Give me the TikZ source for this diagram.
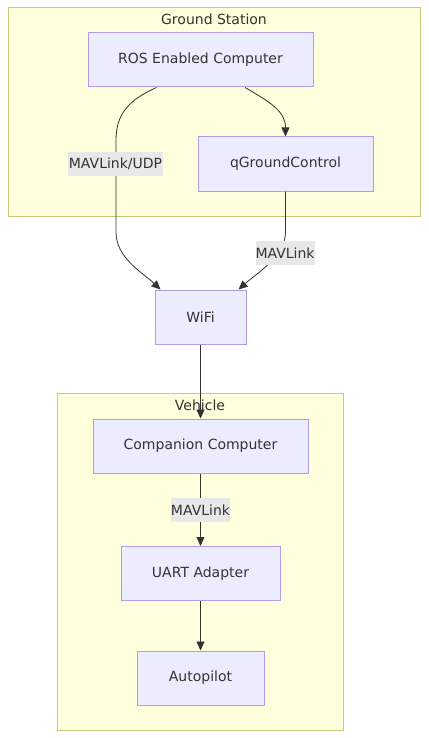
\documentclass[tikz,border=0pt]{standalone}
\usepackage{fontspec}
\setmainfont{DejaVu Sans}
\usetikzlibrary{arrows.meta}
\definecolor{clfill}{HTML}{FFFFDE}
\definecolor{cldraw}{HTML}{C8C87A}
\definecolor{ndfill}{HTML}{ECECFF}
\definecolor{nddraw}{HTML}{B49CE4}
\definecolor{txt}{HTML}{333333}
\definecolor{lblbg}{HTML}{E8E8E8}
\tikzset{
  cluster/.style={draw=cldraw, fill=clfill, line width=1pt},
  box/.style={draw=nddraw, fill=ndfill, line width=1pt, text=txt, minimum height=54pt, inner sep=0pt, font=\fontsize{14}{16}\selectfont},
  ttl/.style={text=txt, font=\fontsize{14}{16}\selectfont, inner sep=0pt},
  lbl/.style={fill=lblbg, text=txt, font=\fontsize{14}{16}\selectfont, inner sep=0pt, minimum height=24pt},
  edge/.style={draw=txt, line width=0.8pt, -{Triangle[length=9pt,width=8pt]}},
}
\begin{document}
\begin{tikzpicture}[x=1pt,y=-1pt]
\useasboundingbox (0,0) rectangle (428,738);
\fill[white] (0,0) rectangle (428,738);
% clusters
\draw[cluster] (8,8) rectangle (420,216);
\node[ttl] (gstitle) at (214,19) {Ground Station};
\draw[cluster] (57,393) rectangle (343,730);
\node[ttl] (vtitle) at (200,405) {Vehicle};
% nodes
\node[box, minimum width=225pt] (ros) at (200.5,60) {ROS Enabled Computer};
\node[box, minimum width=175pt] (qgc) at (285.5,164) {qGroundControl};
\node[box, minimum width=91pt] (wifi) at (200.5,317) {WiFi};
\node[box, minimum width=215pt] (comp) at (200.5,446) {Companion Computer};
\node[box, minimum width=159pt] (uart) at (200.5,573.5) {UART Adapter};
\node[box, minimum width=127pt] (auto) at (200.5,678) {Autopilot};
% edges
\draw[edge] ([xshift=-44pt]ros.south) .. controls (128,100) and (116,115) .. (116,140)
  -- (116,232) .. controls (116,258) and (142,272) .. ([xshift=-40pt]wifi.north);
\draw[edge] ([xshift=44.5pt]ros.south) .. controls (272,103) and (285.5,112) .. (qgc.north);
\draw[edge] (qgc.south) -- (285.5,232) .. controls (285.5,256) and (256,274) .. ([xshift=38pt]wifi.north);
\draw[edge] (wifi.south) -- (comp.north);
\draw[edge] (comp.south) -- (uart.north);
\draw[edge] (uart.south) -- (auto.north);
% edge labels
\node[lbl, minimum width=95pt] (l1) at (115.5,164) {MAVLink/UDP};
\node[lbl, minimum width=58pt] (l2) at (285,253) {MAVLink};
\node[lbl, minimum width=58pt] (l3) at (200.5,510) {MAVLink};
\end{tikzpicture}
\end{document}
